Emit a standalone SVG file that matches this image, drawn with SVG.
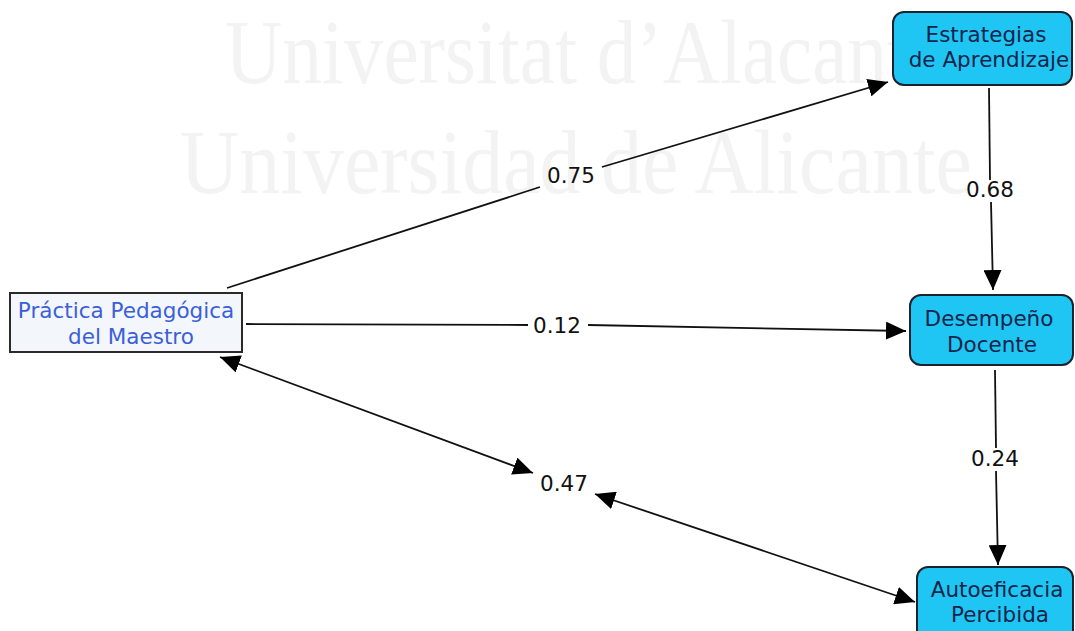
<svg xmlns="http://www.w3.org/2000/svg" width="1075" height="631" viewBox="0 0 1075 631">
<style>
.wm{font-family:"Liberation Serif",serif;font-size:92px;fill:#f3f3f3}
.ln{stroke:#111;stroke-width:1.8;fill:none}
.lbl{font-family:"DejaVu Sans",Verdana,sans-serif;font-size:21.5px;fill:#111;text-anchor:middle}
.nt{font-family:"DejaVu Sans",Verdana,sans-serif;font-size:21.5px;fill:#14244a;text-anchor:middle}
.nb{fill:#1fc6f3;stroke:#1b2230;stroke-width:2}
</style>
<defs>
<marker id="ah" markerUnits="userSpaceOnUse" markerWidth="20" markerHeight="18" refX="20" refY="9" orient="auto-start-reverse" viewBox="0 0 20 18">
<path d="M0,0 L20,9 L0,18 z" fill="#000"/>
</marker>
</defs>
<rect width="1075" height="631" fill="#fff"/>
<g id="watermark">
<text class="wm" x="225" y="83" textLength="684" lengthAdjust="spacingAndGlyphs">Universitat d’Alacant</text>
<text class="wm" x="180" y="193" textLength="792" lengthAdjust="spacingAndGlyphs">Universidad de Alicante</text>
</g>
<g id="connectors">
<path class="ln" d="M227,288 L540,187"/>
<path class="ln" d="M602,167 L888,82" marker-end="url(#ah)"/>
<text class="lbl" x="571" y="183">0.75</text>
<path class="ln" d="M989,88 L990,180"/>
<path class="ln" d="M991,202 L993,290" marker-end="url(#ah)"/>
<text class="lbl" x="990" y="197">0.68</text>
<path class="ln" d="M246,324 L528,325"/>
<path class="ln" d="M588,325 L906,331" marker-end="url(#ah)"/>
<text class="lbl" x="557" y="333">0.12</text>
<path class="ln" d="M995,370 L996,448"/>
<path class="ln" d="M996,471 L998,565" marker-end="url(#ah)"/>
<text class="lbl" x="995" y="466">0.24</text>
<path class="ln" d="M220,357 L533,473" marker-start="url(#ah)" marker-end="url(#ah)"/>
<path class="ln" d="M595,494 L915,602" marker-start="url(#ah)" marker-end="url(#ah)"/>
<text class="lbl" x="564" y="491">0.47</text>
</g>
<g id="node-practica">
<rect x="10" y="293" width="232" height="59" fill="#f3f6fb" stroke="#2a2a2a" stroke-width="2"/>
<text class="nt" x="126" y="318" style="fill:#3b5fd9">Práctica Pedagógica</text>
<text class="nt" x="131" y="344" style="fill:#3b5fd9">del Maestro</text>
</g>
<g id="node-estrategias">
<rect class="nb" x="893" y="12" width="179" height="73" rx="11"/>
<text class="nt" x="986" y="42">Estrategias</text>
<text class="nt" x="989" y="67">de Aprendizaje</text>
</g>
<g id="node-desempeno">
<rect class="nb" x="910" y="295" width="163" height="70" rx="11"/>
<text class="nt" x="989" y="326">Desempeño</text>
<text class="nt" x="992" y="352">Docente</text>
</g>
<g id="node-autoeficacia">
<rect class="nb" x="917" y="567" width="156" height="80" rx="11"/>
<text class="nt" x="997" y="597">Autoeficacia</text>
<text class="nt" x="1000" y="622">Percibida</text>
</g>
</svg>
